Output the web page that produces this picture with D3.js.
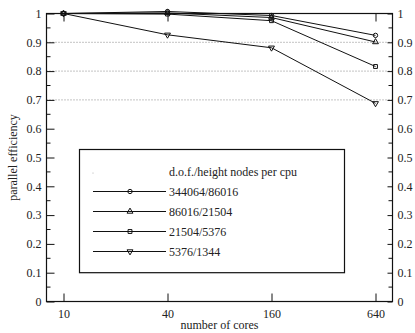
<!DOCTYPE html>
<html>
<head>
<meta charset="utf-8">
<script src="https://cdn.jsdelivr.net/npm/d3@7"></script>
<style>
  body { margin: 0; background: #fff; }
</style>
</head>
<body>
<svg id="chart" width="415" height="333"></svg>
<script>
// data
var cores = [10, 40, 160, 640];
var seriesNames = ['344064/86016', '86016/21504', '21504/5376', '5376/1344'];
var effCircle   = [1.0, 1.007, 0.993, 0.924];
var effTriUp    = [1.0, 1.002, 0.986, 0.901];
var effSquare   = [1.0, 0.998, 0.975, 0.816];
var effTriDown  = [1.0, 0.926, 0.881, 0.688];
var yTicks = [0, 0.1, 0.2, 0.3, 0.4, 0.5, 0.6, 0.7, 0.8, 0.9, 1];
var gridLevels = [0.9, 0.8, 0.7];
var legendTitle = 'd.o.f./height nodes per cpu';

var series = [
  { name: seriesNames[0], values: effCircle,  shape: 'circle' },
  { name: seriesNames[1], values: effTriUp,   shape: 'up' },
  { name: seriesNames[2], values: effSquare,  shape: 'square' },
  { name: seriesNames[3], values: effTriDown, shape: 'down' }
];

var FONT = 'Liberation Serif, DejaVu Serif, serif';

//-------------------------------------------------------------------------------

var svg = d3.select('#chart');
var frame = { left: 46.5, right: 392.5, top: 13.5, bottom: 301.5 };

var x = d3.scaleLog().domain([10, 640]).range([63.5, 375.5]);
var y = d3.scaleLinear().domain([0, 1]).range([frame.bottom, frame.top]);

// dotted reference lines
svg.append('g').selectAll('line')
    .data(gridLevels)
    .join('line')
    .attr('x1', frame.left).attr('x2', frame.right)
    .attr('y1', d => y(d)).attr('y2', d => y(d))
    .attr('stroke', '#888')
    .attr('stroke-dasharray', '1,2');

// the box around the plot
svg.append('rect')
    .attr('x', frame.left).attr('y', frame.top)
    .attr('width', frame.right - frame.left)
    .attr('height', frame.bottom - frame.top)
    .attr('fill', 'none').attr('stroke', '#111').attr('stroke-width', 1.2);

//-------------------------------------------------------------------------------
// axes: ticks point inwards, minor ticks every 0.05

var minor = d3.range(0.05, 1, 0.1);

var yLeft = d3.axisLeft(y).tickValues(yTicks).tickSizeInner(-8).tickSizeOuter(0).tickPadding(5)
    .tickFormat(d3.format('~g'));
var gL = svg.append('g').attr('transform', `translate(${frame.left},0)`).call(yLeft);
gL.append('g').selectAll('line').data(minor).join('line')
    .attr('x1', 0).attr('x2', 4).attr('y1', d => y(d)).attr('y2', d => y(d)).attr('stroke', '#111');

var yRight = d3.axisRight(y).tickValues(yTicks).tickSizeInner(-5).tickSizeOuter(0).tickPadding(5)
    .tickFormat(d3.format('~g'));
var gR = svg.append('g').attr('transform', `translate(${frame.right},0)`).call(yRight);
gR.append('g').selectAll('line').data(minor).join('line')
    .attr('x1', 0).attr('x2', -4).attr('y1', d => y(d)).attr('y2', d => y(d)).attr('stroke', '#111');

var xBottom = d3.axisBottom(x).tickValues(cores).tickSizeInner(-8).tickSizeOuter(0).tickPadding(8)
    .tickFormat(d3.format('d'));
svg.append('g').attr('transform', `translate(0,${frame.bottom})`).call(xBottom);

var xTop = d3.axisTop(x).tickValues(cores).tickSizeInner(-8).tickSizeOuter(0).tickFormat('');
svg.append('g').attr('transform', `translate(0,${frame.top})`).call(xTop);

svg.selectAll('.domain').remove();
svg.selectAll('.tick line').attr('stroke', '#111');
// d3 puts font-family="sans-serif" on the axis groups; drop it
svg.selectAll('g').attr('font-family', null).attr('font-size', null);

//-------------------------------------------------------------------------------
// axis titles

svg.append('text')
    .attr('x', (frame.left + frame.right) / 2).attr('y', 329)
    .attr('text-anchor', 'middle')
    .text('number of cores');

svg.append('text')
    .attr('transform', `translate(17,${(frame.top + frame.bottom) / 2}) rotate(-90)`)
    .attr('text-anchor', 'middle')
    .text('parallel efficiency');

//-------------------------------------------------------------------------------

function MarkerPath(shape) {
    var t = { circle: d3.symbolCircle, up: d3.symbolTriangle, square: d3.symbolSquare, down: d3.symbolTriangle }[shape];
    return d3.symbol().type(t).size(15)();
}

function MarkerTransform(shape, px, py) {
    return `translate(${px},${py})` + (shape == 'down' ? ' rotate(180)' : '');
}

var line = d3.line()
    .x((d, i) => x(cores[i]))
    .y(d => y(d));

var gSeries = svg.append('g');
series.forEach(function (s) {
    gSeries.append('path')
        .attr('d', line(s.values))
        .attr('fill', 'none').attr('stroke', '#111').attr('stroke-width', 1);
    gSeries.append('g').selectAll('path')
        .data(s.values)
        .join('path')
        .attr('d', MarkerPath(s.shape))
        .attr('transform', (d, i) => MarkerTransform(s.shape, x(cores[i]), y(d)))
        .attr('fill', 'none').attr('stroke', '#111').attr('stroke-width', 1);
});

//-------------------------------------------------------------------------------
// legend box

var leg = { left: 79.5, right: 344.5, top: 149.5, bottom: y(0.1) };
svg.append('rect')
    .attr('x', leg.left).attr('y', leg.top)
    .attr('width', leg.right - leg.left).attr('height', leg.bottom - leg.top)
    .attr('fill', '#fff').attr('stroke', '#111').attr('stroke-width', 1.2);

svg.append('circle').attr('cx', 93).attr('cy', 173).attr('r', 0.5).attr('fill', '#999');
svg.append('text').attr('x', 169).attr('y', 176).text(legendTitle);

var rowY = d3.scalePoint().domain(seriesNames).range([191.5, 251.5]);
var gLeg = svg.append('g').selectAll('g')
    .data(series)
    .join('g')
    .attr('transform', d => `translate(0,${rowY(d.name)})`);
gLeg.append('line')
    .attr('x1', 93).attr('x2', 166).attr('y1', 0).attr('y2', 0)
    .attr('stroke', '#111');
gLeg.append('path')
    .attr('d', d => MarkerPath(d.shape))
    .attr('transform', d => MarkerTransform(d.shape, 130, 0))
    .attr('fill', 'none').attr('stroke', '#111');
gLeg.append('text')
    .attr('x', 169).attr('y', 4.5)
    .text(d => d.name);

svg.selectAll('text')
    .attr('font-family', FONT)
    .attr('font-size', 12)
    .attr('fill', '#222');
</script>
</body>
</html>
